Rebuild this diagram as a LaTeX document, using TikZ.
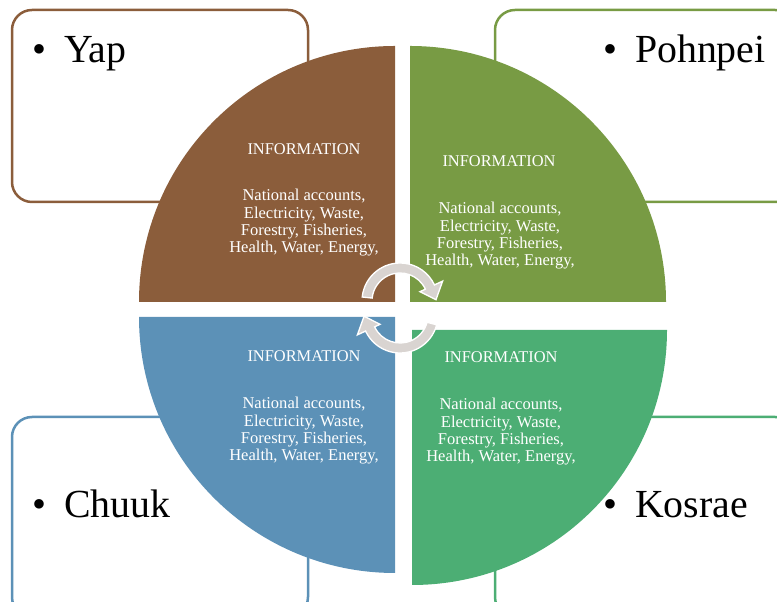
\documentclass[tikz,border=0pt]{standalone}
\usepackage{fontspec}
\setmainfont{Liberation Serif}
\usetikzlibrary{calc}

\definecolor{yapbrown}{HTML}{8B5D3B}
\definecolor{pohnolive}{HTML}{789B44}
\definecolor{chuukblue}{HTML}{5C91B7}
\definecolor{kosgreen}{HTML}{4CAE74}
\definecolor{cyclegray}{HTML}{D9D4D1}

\tikzset{
  statebox/.style={line width=0.75mm,rounded corners=6mm,fill=white},
  infohead/.style={text=white,inner sep=0,font=\fontsize{14}{15}\selectfont},
  infobody/.style={text=white,inner sep=0,align=center,font=\fontsize{14.1}{14.8}\selectfont},
  statename/.style={anchor=base west,inner sep=0,font=\fontsize{34}{40}\selectfont},
  cyclearrow/.style={fill=cyclegray,draw=white,line width=0.4mm}
}

\newcommand{\infolist}{National accounts,\\Electricity, Waste,\\Forestry, Fisheries,\\Health, Water, Energy,}

\begin{document}
\begin{tikzpicture}[x=0.3mm,y=0.3mm]
  \useasboundingbox (0,0) rectangle (777,602);

  % State boxes
  \draw[statebox,draw=yapbrown] (12,400) rectangle (308,592);
  \draw[statebox,draw=pohnolive] (495,400) rectangle (795,592);
  \draw[statebox,draw=chuukblue] (12,-15) rectangle (308,185);
  \draw[statebox,draw=kosgreen] (495,-15) rectangle (795,185);

  \node[statename] (yap) at (32,539) {\textbullet\hspace{0.45em}Yap};
  \node[statename] (pohnpei) at (603,539) {\textbullet\hspace{0.45em}Pohnpei};
  \node[statename] (chuuk) at (32,84) {\textbullet\hspace{0.45em}Chuuk};
  \node[statename] (kosrae) at (603,84) {\textbullet\hspace{0.45em}Kosrae};

  % Quarters
  \fill[yapbrown] (395,300) -- (139,300) arc[start angle=180,end angle=90,radius=256] -- cycle;
  \fill[pohnolive] (410,300) -- (410,556) arc[start angle=90,end angle=0,radius=256] -- cycle;
  \fill[chuukblue] (395,285) -- (139,285) arc[start angle=180,end angle=270,radius=256] -- cycle;
  \fill[kosgreen] (412,272) -- (667,272) arc[start angle=0,end angle=-90,radius=255] -- cycle;

  % Texts
  \node[infohead] (yaphead) at (304,453) {INFORMATION};
  \node[infobody] (yapbody) at (304,379) {\infolist};
  \node[infohead] (pohnhead) at (499,441) {INFORMATION};
  \node[infobody] (pohnbody) at (500,366) {\infolist};
  \node[infohead] (chuukhead) at (304,246) {INFORMATION};
  \node[infobody] (chuukbody) at (304,171) {\infolist};
  \node[infohead] (koshead) at (501,245) {INFORMATION};
  \node[infobody] (kosbody) at (501,170) {\infolist};

  % Cycle arrows
  \coordinate (upc) at (400,301);
  \coordinate (lowc) at (400,287);
  \draw[cyclearrow] ($(upc)+(174:38)$) arc[start angle=174,end angle=25,radius=38]
    -- ($(upc)+(25:47)$) -- ($(upc)+(2:36)$) -- ($(upc)+(25:22)$)
    -- ($(upc)+(25:28)$) arc[start angle=25,end angle=174,radius=28] -- cycle;
  \draw[cyclearrow] ($(lowc)+(-15:38)$) arc[start angle=-15,end angle=-155,radius=38]
    -- ($(lowc)+(-155:47)$) -- ($(lowc)+(-178:36)$) -- ($(lowc)+(-155:22)$)
    -- ($(lowc)+(-155:28)$) arc[start angle=-155,end angle=-15,radius=28] -- cycle;
\end{tikzpicture}
\end{document}
